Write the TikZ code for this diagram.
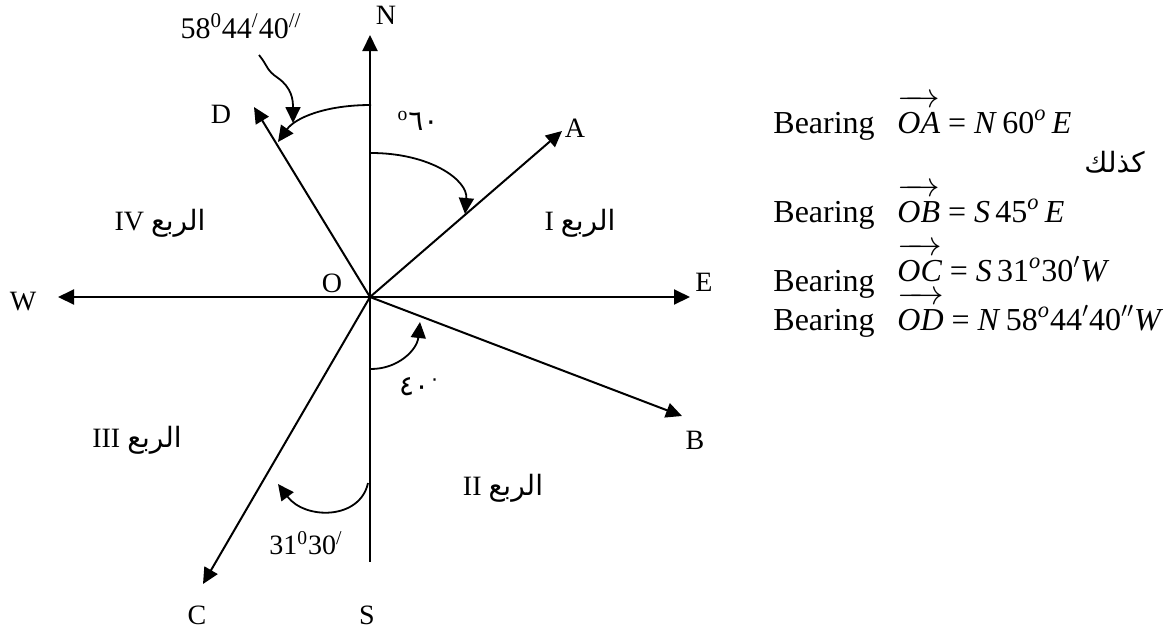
\documentclass[tikz,border=0pt]{standalone}
\usepackage{fontspec}
\setmainfont{Liberation Serif}
\newfontfamily\arabicfont[Script=Arabic]{DejaVu Sans}
\TeXXeTstate=1
\usetikzlibrary{arrows.meta}
\newsavebox\vecbox
\newcommand{\rubu}[1]{#1 {\arabicfont\beginR الربع\endR}}
\newcommand{\vecop}[1]{\sbox\vecbox{\itshape #1}\leavevmode
  \vbox{\hbox to\wd\vecbox{\rightarrowfill}\kern-6pt\copy\vecbox}}

\begin{document}
\begin{tikzpicture}[
      x=0.5pt,y=-0.5pt,
      font=\fontsize{14}{16}\selectfont,
      >={Triangle[length=8pt,width=7.5pt]},
      axis/.style={->,line width=1pt},
      turn/.style={->,line width=0.9pt},
      lbl/.style={inner sep=0pt},
      eqn/.style={anchor=base west,inner sep=0pt,font=\fontsize{16}{19}\selectfont}
    ]
      \useasboundingbox (0,0) rectangle (1167,633);
      % centre and arrow ends
      \coordinate (O) at (370,297);
      \coordinate (Ntip) at (370,35);
      \coordinate (Stip) at (370,562);
      \coordinate (Etip) at (690,297);
      \coordinate (Wtip) at (58,297);
      \coordinate (Atip) at (562,131);
      \coordinate (Btip) at (682,416);
      \coordinate (Ctip) at (203,584);
      \coordinate (Dtip) at (254,107);

      \draw[axis] (O) -- (Ntip);
      \draw[line width=1pt] (O) -- (Stip);
      \draw[axis] (O) -- (Etip);
      \draw[axis] (O) -- (Wtip);
      \draw[axis] (O) -- (Atip);
      \draw[axis] (O) -- (Btip);
      \draw[axis] (O) -- (Ctip);
      \draw[axis] (O) -- (Dtip);

      \node[lbl] (lN) at (386,15) {N};
      \node[lbl] (lS) at (367,615) {S};
      \node[lbl] (lE) at (704,282) {E};
      \node[lbl] (lW) at (23,302) {W};
      \node[lbl] (lO) at (332,283) {O};
      \node[lbl] (lA) at (575,128) {A};
      \node[lbl] (lB) at (695,440) {B};
      \node[lbl] (lC) at (197,615) {C};
      \node[lbl] (lD) at (221,114) {D};

      % quadrants
      \node[lbl] (q1) at (580,223) {\rubu{I}};
      \node[lbl] (q2) at (503,488) {\rubu{II}};
      \node[lbl] (q3) at (137,440) {\rubu{III}};
      \node[lbl] (q4) at (160,223) {\rubu{IV}};

      % angle arcs
      \coordinate (aA1) at (371,153);
      \coordinate (aA2) at (465,214);
      \draw[turn] (aA1) .. controls (430,153) and (468,180) .. (aA2);
      \node[lbl] (gA) at (418,121) {\textsuperscript{o}{\arabicfont ٦٠}};

      \coordinate (aB1) at (371,369);
      \coordinate (aB2) at (420,322);
      \draw[turn] (aB1) .. controls (398,369) and (417,350) .. (aB2);
      \node[lbl] (gB) at (420,387) {{\arabicfont ٤٠\textsuperscript{٠}}};

      \coordinate (aC1) at (368,483);
      \coordinate (aC2) at (278,484);
      \draw[turn] (aC1) .. controls (360,520) and (305,520) .. (aC2);
      \node[lbl] (gC) at (306,543) {31\textsuperscript{0}30\textsuperscript{/}};

      \coordinate (aD1) at (371,105);
      \coordinate (aD2) at (278,142);
      \draw[turn] (aD1) .. controls (325,105) and (295,118) .. (aD2);
      \node[lbl] (gD) at (241,26) {\fontsize{15}{17}\selectfont 58\textsuperscript{0}44\textsuperscript{/}40\textsuperscript{//}};
      \coordinate (lead) at (259,55);
      \coordinate (leadend) at (293,123);
      \draw[turn] (lead) .. controls (268,66) and (266,70) .. (278,78)
        .. controls (292,88) and (293,100) .. (leadend);

      % bearings
      \node[eqn] (b1) at (773,133) {Bearing};
      \node[eqn] (f1) at (897,133) {\vecop{OA} = \textit{N}\,60\textsuperscript{\itshape o}\,\textit{E}};
      \node[eqn,anchor=base east] (kd) at (1145,172) {\arabicfont\fontsize{14}{16}\selectfont\beginR كذلك\endR};
      \node[eqn] (b2) at (773,222) {Bearing};
      \node[eqn] (f2) at (897,222) {\vecop{OB} = \textit{S}\,45\textsuperscript{\itshape o}\,\textit{E}};
      \node[eqn] (b3) at (773,291) {Bearing};
      \node[eqn] (f3) at (897,281) {\vecop{OC} = \textit{S}\,31\textsuperscript{\itshape o}30$'$\textit{W}};
      \node[eqn] (b4) at (773,330) {Bearing};
      \node[eqn] (f4) at (897,330) {\vecop{OD} = \textit{N}\,58\textsuperscript{\itshape o}44$'$40$''$\textit{W}};
    \end{tikzpicture}
\end{document}
